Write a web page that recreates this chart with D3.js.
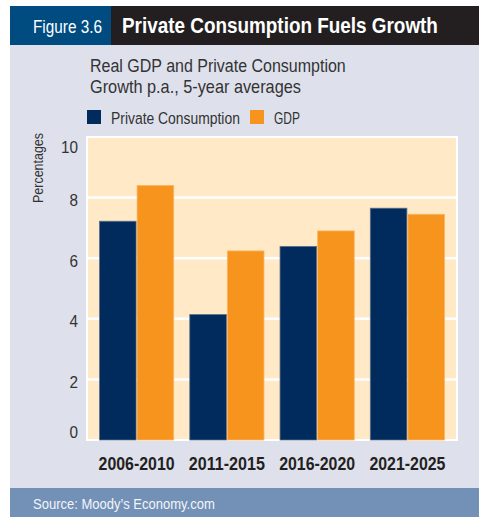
<!DOCTYPE html>
<html><head><meta charset="utf-8">
<script src="https://cdn.jsdelivr.net/npm/d3@7"></script>
<style>
html,body{margin:0;padding:0;background:#fff;}
svg{display:block;}
text{font-family:"Liberation Sans Narrow","Liberation Sans",Arial,sans-serif;}
</style></head>
<body>
<svg id="chart" width="479" height="517"></svg>
<script>
const categories = ["2006-2010", "2011-2015", "2016-2020", "2021-2025"];
const seriesNames = ["Private Consumption", "GDP"];
const privateConsumption = [7.22, 4.14, 6.39, 7.65];
const gdp = [8.4, 6.24, 6.9, 7.45];
const yTicks = [0, 2, 4, 6, 8, 10];
const figureLabel = "Figure 3.6";
const title = "Private Consumption Fuels Growth";
const subtitle = ["Real GDP and Private Consumption", "Growth p.a., 5-year averages"];
const yLabel = "Percentages";
const source = "Source: Moody\u2019s Economy.com";

const colors = {navy: "#002B5C", orange: "#F7941D"};
const seriesColors = [colors.navy, colors.orange];
const seriesStroke = ["#5a6f8c", "#f9b464"];
const FONT = '"Liberation Sans Narrow","Liberation Sans",Arial,sans-serif';

const svg = d3.select("#chart");

// condensed text helper: horizontally scales a text to a given width
function condText(x0, y0, str, size, width, fill, weight) {
  const t = svg.append("text").attr("x", 0).attr("y", 0).attr("fill", fill)
    .attr("font-size", size).attr("font-weight", weight || "normal").text(str);
  const w = t.node().getComputedTextLength();
  t.attr("transform", `translate(${x0},${y0}) scale(${width / w},1)`);
  return t;
}

// backgrounds
svg.append("rect").attr("x", 10).attr("y", 6).attr("width", 469).attr("height", 511).attr("fill", "#DEE1EC");
svg.append("rect").attr("x", 10).attr("y", 6).attr("width", 101).attr("height", 39).attr("fill", "#004C81");
svg.append("rect").attr("x", 111).attr("y", 6).attr("width", 368).attr("height", 39).attr("fill", "#231F20");
condText(33, 33, figureLabel, 18, 69, "#fff");
condText(122, 33, title, 22, 316, "#fff", "bold");

// subtitle
condText(90, 72, subtitle[0], 18.5, 256, "#333");
condText(90, 93, subtitle[1], 18.5, 211, "#333");

// legend
const legendX = [87, 250];
const legendTextW = [129, 26];
seriesNames.forEach((n, i) => {
  svg.append("rect").attr("x", legendX[i]).attr("y", 110).attr("width", 14).attr("height", 14).attr("fill", seriesColors[i]);
  condText(legendX[i] + 24, 124, n, 17, legendTextW[i], "#333");
});

// plot
const plot = {left: 87, right: 457, top: 137, bottom: 440};
const x = d3.scaleBand().domain(categories).range([plot.left, plot.right]).paddingInner(0.167).paddingOuter(0.133);
const xs = d3.scaleBand().domain(seriesNames).range([0, x.bandwidth()]);
const y = d3.scaleLinear().domain([0, 10]).range([plot.bottom, plot.top]);

svg.append("rect").attr("x", plot.left).attr("y", plot.top).attr("width", plot.right - plot.left).attr("height", plot.bottom - plot.top)
  .attr("fill", "#FFE9C6").attr("stroke", "#fff").attr("stroke-width", 2);

svg.append("g").selectAll("line").data(yTicks.filter(t => t > 0 && t < 10)).join("line")
  .attr("x1", plot.left).attr("x2", plot.right).attr("y1", d => y(d)).attr("y2", d => y(d))
  .attr("stroke", "#fff").attr("stroke-width", 2.5);

const data = categories.map((c, i) => ({c, vals: [privateConsumption[i], gdp[i]]}));
const groups = svg.append("g").selectAll("g").data(data).join("g").attr("transform", d => `translate(${x(d.c)},0)`);
groups.selectAll("rect").data(d => d.vals.map((v, i) => ({v, s: seriesNames[i], i}))).join("rect")
  .attr("x", d => xs(d.s) + 0.5).attr("width", xs.bandwidth() - 1)
  .attr("y", d => y(d.v)).attr("height", d => y(0) - y(d.v))
  .attr("fill", d => seriesColors[d.i]).attr("stroke", d => seriesStroke[d.i]).attr("stroke-width", 0.8);

// y axis
const yAxis = d3.axisLeft(y).tickValues(yTicks).tickSize(0).tickPadding(0).tickFormat(d3.format("d"));
const yg = svg.append("g").attr("transform", `translate(78,0)`).call(yAxis);
yg.select(".domain").remove();
yg.selectAll("text").attr("fill", "#333").attr("font-size", 17).attr("font-family", FONT)
  .attr("textLength", d => d === 10 ? 17 : 8.5).attr("lengthAdjust", "spacingAndGlyphs")
  .attr("dy", d => d === 10 ? "0.9em" : d === 0 ? "-0.12em" : "0.46em");

svg.append("text").attr("transform", "translate(43,168) rotate(-90)").attr("text-anchor", "middle")
  .attr("fill", "#333").attr("font-size", 14).attr("textLength", 70).attr("lengthAdjust", "spacingAndGlyphs").text(yLabel);

// x axis
const xAxis = d3.axisBottom(x).tickSize(0).tickPadding(0);
const xg = svg.append("g").attr("transform", `translate(0,457)`).call(xAxis);
xg.select(".domain").remove();
xg.selectAll("text").attr("fill", "#231F20").attr("font-size", 18).attr("font-weight", "bold").attr("font-family", FONT)
  .attr("textLength", 76).attr("lengthAdjust", "spacingAndGlyphs");

// footer
svg.append("rect").attr("x", 10).attr("y", 488).attr("width", 469).attr("height", 29).attr("fill", "#7391B7");
condText(33, 509, source, 15, 182, "#F2F4F8");
</script>
</body></html>
